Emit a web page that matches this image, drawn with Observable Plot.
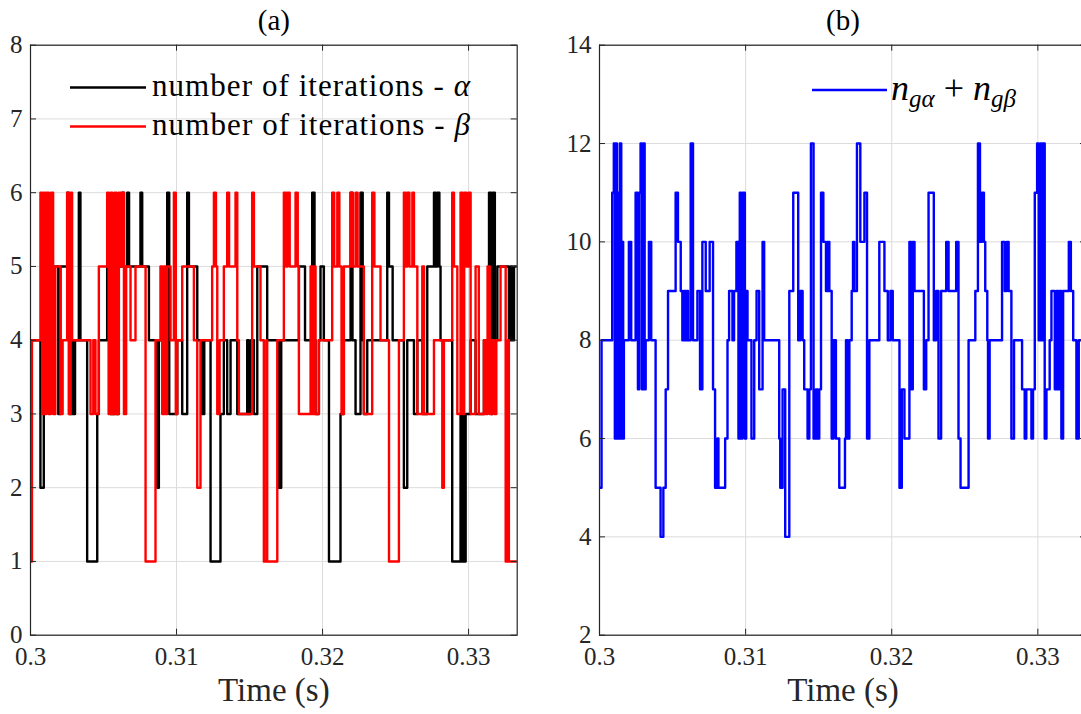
<!DOCTYPE html>
<html><head><meta charset="utf-8">
<script src="https://cdn.jsdelivr.net/npm/d3@7"></script>
<script src="https://cdn.jsdelivr.net/npm/@observablehq/plot@0.6"></script>
<style>
html,body{margin:0;padding:0;background:#fff;overflow:hidden;width:1081px;height:714px;}
#wrap{position:relative;width:1081px;height:714px;overflow:hidden;}
.panel{position:absolute;top:0;}
</style></head><body><div id="wrap"></div>
<script>
const FONT = "Liberation Serif";
const xStart = 0.3, xEnd = 0.33333;
const xTicks = [0.3, 0.31, 0.32, 0.33];
const xTickLabels = ["0.3", "0.31", "0.32", "0.33"];
const yTicksA = [0,1,2,3,4,5,6,7,8];
const yTicksB = [2,4,6,8,10,12,14];
const titles = ["(a)", "(b)"];
const xLabel = "Time (s)";

const timeAlpha = [0.3,0.30068,0.30091,0.30190,0.30205,0.30251,0.30262,0.30269,0.30280,0.30290,0.30305,0.30331,0.30342,0.30388,0.30457,0.30468,0.30525,0.30548,0.30605,0.30628,0.30640,0.30662,0.30675,0.30753,0.30765,0.30811,0.30868,0.30879,0.30936,0.30950,0.31005,0.31039,0.31073,0.31085,0.31142,0.31175,0.31190,0.31233,0.31301,0.31324,0.31347,0.31370,0.31416,0.31484,0.31495,0.31510,0.31530,0.31553,0.31621,0.31701,0.31717,0.31838,0.31880,0.31929,0.31945,0.31952,0.31975,0.31986,0.32009,0.32044,0.32123,0.32146,0.32192,0.32205,0.32226,0.32260,0.32275,0.32283,0.32306,0.32443,0.32455,0.32480,0.32557,0.32580,0.32626,0.32649,0.32683,0.32717,0.32763,0.32775,0.32786,0.32800,0.32808,0.32888,0.32945,0.32952,0.32960,0.32968,0.32980,0.33014,0.33048,0.33105,0.33140,0.33155,0.33165,0.33180,0.33197,0.33276,0.33288,0.33300,0.33311,0.33333];
const iterAlpha = [4,2,5,3,5,6,5,3,4,3,4,6,4,1,3,4,5,3,5,6,5,6,5,6,5,4,2,4,6,3,4,3,6,5,4,3,4,1,3,4,3,4,3,4,3,4,3,5,4,2,4,5,4,6,4,3,4,5,4,1,3,4,6,4,3,6,4,3,4,6,5,4,2,4,3,4,3,5,6,5,6,5,4,1,3,1,3,1,3,4,3,4,6,3,6,4,5,4,5,4,5,5];

const timeBeta = [0.3,0.30010,0.30068,0.30080,0.30090,0.30100,0.30110,0.30125,0.30140,0.30155,0.30170,0.30205,0.30220,0.30251,0.30262,0.30275,0.30285,0.30411,0.30430,0.30445,0.30468,0.30525,0.30535,0.30548,0.30560,0.30575,0.30590,0.30605,0.30620,0.30628,0.30640,0.30655,0.30685,0.30719,0.30788,0.30856,0.30890,0.30902,0.30915,0.30925,0.30936,0.30959,0.30982,0.30995,0.31005,0.31039,0.31119,0.31142,0.31164,0.31244,0.31256,0.31270,0.31279,0.31295,0.31324,0.31347,0.31360,0.31404,0.31416,0.31427,0.31518,0.31530,0.31575,0.31598,0.31615,0.31621,0.31690,0.31735,0.31750,0.31760,0.31775,0.31815,0.31830,0.31838,0.31918,0.31929,0.31940,0.31952,0.31975,0.32066,0.32080,0.32101,0.32115,0.32130,0.32146,0.32192,0.32205,0.32226,0.32240,0.32283,0.32340,0.32355,0.32397,0.32455,0.32523,0.32557,0.32570,0.32580,0.32595,0.32615,0.32626,0.32649,0.32683,0.32695,0.32763,0.32820,0.32831,0.32888,0.32900,0.32923,0.32945,0.32960,0.32970,0.32985,0.33000,0.33014,0.33048,0.33070,0.33105,0.33115,0.33130,0.33145,0.33160,0.33175,0.33190,0.33219,0.33254,0.33270,0.33276,0.33333];
const iterBeta = [1,4,6,3,6,3,6,3,6,3,5,3,4,6,3,6,4,3,4,3,5,6,3,6,3,6,3,6,5,6,3,5,4,5,1,4,5,3,5,3,5,4,6,3,4,5,4,2,4,5,6,5,3,4,5,6,5,6,4,3,6,5,4,1,4,1,4,6,5,6,5,6,5,3,5,3,5,3,4,6,5,6,5,3,5,6,5,6,5,3,6,5,4,1,4,6,5,6,5,6,5,3,5,3,4,2,4,6,5,3,6,3,6,5,6,3,5,3,4,3,5,3,4,3,4,5,1,4,1,1];

const timeSum = [0.3,0.30014,0.30087,0.30098,0.30105,0.30112,0.30119,0.30126,0.30133,0.30139,0.30149,0.30155,0.30162,0.30167,0.30201,0.30217,0.30247,0.30263,0.30272,0.30281,0.30290,0.30300,0.30309,0.30316,0.30338,0.30354,0.30384,0.30418,0.30437,0.30453,0.30469,0.30521,0.30537,0.30556,0.30567,0.30578,0.30588,0.30597,0.30606,0.30624,0.30640,0.30670,0.30688,0.30704,0.30727,0.30754,0.30777,0.30791,0.30807,0.30814,0.30860,0.30876,0.30887,0.30910,0.30921,0.30937,0.30951,0.30960,0.30969,0.30979,0.30995,0.31004,0.31013,0.31040,0.31059,0.31075,0.31093,0.31116,0.31127,0.31230,0.31237,0.31253,0.31271,0.31299,0.31326,0.31360,0.31374,0.31390,0.31401,0.31424,0.31436,0.31447,0.31465,0.31481,0.31493,0.31504,0.31516,0.31532,0.31550,0.31561,0.31573,0.31589,0.31602,0.31618,0.31641,0.31680,0.31687,0.31698,0.31710,0.31726,0.31735,0.31744,0.31762,0.31785,0.31813,0.31831,0.31847,0.31915,0.31950,0.31973,0.31991,0.32007,0.32053,0.32069,0.32087,0.32121,0.32133,0.32144,0.32156,0.32220,0.32236,0.32252,0.32288,0.32304,0.32320,0.32338,0.32373,0.32389,0.32441,0.32457,0.32471,0.32526,0.32572,0.32590,0.32604,0.32617,0.32631,0.32640,0.32654,0.32659,0.32670,0.32755,0.32773,0.32787,0.32800,0.32819,0.32837,0.32892,0.32910,0.32921,0.32956,0.32967,0.32979,0.32995,0.33006,0.33015,0.33024,0.33033,0.33047,0.33059,0.33081,0.33093,0.33116,0.33127,0.33139,0.33150,0.33161,0.33173,0.33212,0.33226,0.33242,0.33264,0.33280,0.33333];
const iterSum = [5,8,11,12,6,12,6,11,6,12,6,10,6,8,10,8,11,7,11,12,7,12,7,8,10,8,5,4,5,7,9,11,10,9,8,9,8,9,8,12,8,9,7,10,9,10,7,5,6,5,6,8,9,8,9,10,6,11,6,11,6,9,8,6,8,9,7,10,8,6,5,7,4,9,11,8,9,8,7,6,7,12,6,7,6,7,11,10,9,10,9,6,8,6,5,6,8,6,8,9,10,9,12,10,11,6,8,10,9,8,9,8,5,7,6,10,7,10,9,7,8,11,8,9,6,9,10,9,10,6,5,8,9,12,10,11,10,9,8,6,8,10,9,10,9,6,8,7,6,7,6,7,11,12,8,12,8,12,6,7,8,9,7,9,7,9,6,9,10,9,8,6,8,8];

const rows = (ts, vs) => ts.map((t, i) => ({t, v: vs[i]}));

const H = 714, MT = 44.7, MB = 79.3;
const AX = "#262626";

function panel({width, marginLeft, marginRight, yDomain, yTicks, series, title}) {
  const ph = H - MT - MB;
  const pw = width - marginLeft - marginRight;
  const tk = 6;
  return Plot.plot({
    width, height: H, marginTop: MT, marginBottom: MB, marginLeft, marginRight,
    style: {fontFamily: FONT, background: "transparent", overflow: "visible", color: AX},
    x: {domain: [xStart, xEnd]},
    y: {domain: yDomain},
    marks: [
      Plot.gridX(xTicks, {stroke: "#dcdcdc", strokeOpacity: 1, strokeWidth: 1}),
      Plot.gridY(yTicks, {stroke: "#dcdcdc", strokeOpacity: 1, strokeWidth: 1}),
      ...series.map(s => Plot.line(s.data, {x: "t", y: "v", curve: "step-after", stroke: s.color, strokeWidth: 2.4, clip: true})),
      Plot.frame({stroke: AX, strokeWidth: 1.2}),
      Plot.ruleX(xTicks, {insetTop: ph - tk, stroke: AX}),
      Plot.ruleX(xTicks, {insetBottom: ph - tk, stroke: AX}),
      Plot.ruleY(yTicks, {insetRight: pw - tk, stroke: AX}),
      Plot.ruleY(yTicks, {insetLeft: pw - tk, stroke: AX}),
      Plot.axisX(xTicks, {tickSize: 0, tickPadding: 12, fontSize: 25, tickFormat: (d, i) => xTickLabels[i], label: null, fill: AX}),
      Plot.axisY(yTicks, {tickSize: 0, tickPadding: 8, fontSize: 25, tickFormat: d => String(d), label: null, fill: AX}),
      Plot.text([xLabel], {text: d => d, frameAnchor: "bottom", lineAnchor: "middle", dy: 55, fontSize: 33, fill: AX}),
      Plot.text([title], {text: d => d, frameAnchor: "top", lineAnchor: "middle", dy: -24, fontSize: 29, fill: "#000"})
    ]
  });
}

const wrap = document.getElementById("wrap");

const left = panel({
  width: 540, marginLeft: 30, marginRight: 23.3, yDomain: [0, 8], yTicks: yTicksA, title: titles[0],
  series: [
    {data: rows(timeAlpha, iterAlpha), color: "#000000"},
    {data: rows(timeBeta, iterBeta), color: "#ff0000"}
  ]
});
left.classList.add("panel"); left.style.left = "0px";
wrap.appendChild(left);

const right = panel({
  width: 546, marginLeft: 59, marginRight: 0, yDomain: [2, 14], yTicks: yTicksB, title: titles[1],
  series: [{data: rows(timeSum, iterSum), color: "#0000ff"}]
});
right.classList.add("panel"); right.style.left = "540px";
wrap.appendChild(right);

// legends
const legA = [
  {color: "#000000", label: "number of iterations - ", sym: "α", y: 87.5},
  {color: "#ff0000", label: "number of iterations - ", sym: "β", y: 126.5}
];
const gA = d3.select(left).append("g").attr("text-anchor", "start");
legA.forEach(d => {
  gA.append("line").attr("x1", 70).attr("x2", 146).attr("y1", d.y).attr("y2", d.y)
    .attr("stroke", d.color).attr("stroke-width", 2.4);
  const t = gA.append("text").attr("x", 152).attr("y", d.y + 8)
    .attr("text-anchor", "start")
    .attr("font-family", FONT).attr("font-size", 31).attr("fill", "#000")
    .attr("textLength", 318).attr("lengthAdjust", "spacing");
  t.append("tspan").text(d.label);
  t.append("tspan").attr("font-style", "italic").text(d.sym);
});

const gB = d3.select(right).append("g").attr("text-anchor", "start");
gB.append("line").attr("x1", 272).attr("x2", 347).attr("y1", 90).attr("y2", 90)
  .attr("stroke", "#0000ff").attr("stroke-width", 2.4);
const tb = gB.append("text").attr("x", 351).attr("y", 100).attr("text-anchor", "start")
  .attr("font-family", FONT).attr("font-size", 36).attr("fill", "#000");
tb.append("tspan").attr("font-style", "italic").text("n");
tb.append("tspan").attr("font-style", "italic").attr("font-size", 25).attr("dy", 7).text("gα");
tb.append("tspan").attr("dy", -7).text(" + ");
tb.append("tspan").attr("font-style", "italic").text("n");
tb.append("tspan").attr("font-style", "italic").attr("font-size", 25).attr("dy", 7).text("gβ");
</script></body></html>
